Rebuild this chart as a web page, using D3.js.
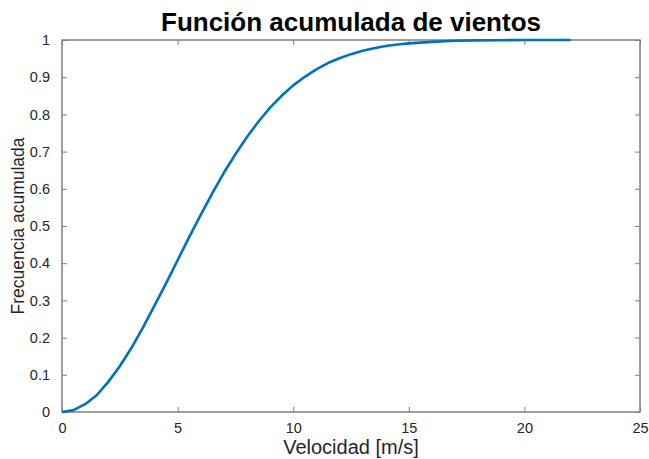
<!DOCTYPE html>
<html>
<head>
<meta charset="utf-8">
<script src="https://cdn.jsdelivr.net/npm/d3@7"></script>
<style>
  body { margin: 0; background: #fff; }
  text { font-family: "Liberation Sans", Arial, sans-serif; }
</style>
</head>
<body>
<svg id="chart" width="649" height="459"></svg>
<script>
// wind speed [m/s] and cumulative frequency
velocidad = [0, 0.5, 1, 1.5, 2, 2.5, 3, 3.5, 4, 4.5, 5, 5.5, 6, 6.5, 7, 7.5, 8, 8.5, 9, 9.5,
             10, 10.5, 11, 11.5, 12, 12.5, 13, 13.5, 14, 14.5, 15, 16, 17, 18, 19, 20, 21, 22]
frecuencia = [0, 0.005, 0.021, 0.045, 0.081, 0.123, 0.172, 0.227, 0.286, 0.346, 0.408, 0.470,
              0.530, 0.588, 0.643, 0.693, 0.739, 0.781, 0.818, 0.850, 0.878, 0.901, 0.921,
              0.938, 0.951, 0.962, 0.971, 0.978, 0.984, 0.988, 0.991, 0.995, 0.998, 0.999,
              0.9995, 0.9998, 1, 1]
xTicks = [0, 5, 10, 15, 20, 25]
yTicks = [0, 0.1, 0.2, 0.3, 0.4, 0.5, 0.6, 0.7, 0.8, 0.9, 1]

svg = d3.select('#chart')

L = 62, R = 640, T = 40, B = 412

x = d3.scaleLinear().domain([0, 25]).range([L, R])
y = d3.scaleLinear().domain([0, 1]).range([B, T])

AXIS = '#808080'
TXT = '#262626'

// axes, MATLAB style: ticks inside, box on
function styleAxis(g) {
    g.select('.domain').remove()
    g.selectAll('.tick line').attr('stroke', AXIS).attr('stroke-width', 1)
    g.selectAll('.tick text').attr('fill', TXT).style('font-size', '14.5px')
}

svg.append('g').attr('transform', `translate(0,${B})`)
    .call(d3.axisBottom(x).tickValues(xTicks).tickSize(-5).tickPadding(11).tickFormat(d3.format('d')))
    .call(styleAxis)
svg.append('g').attr('transform', `translate(0,${T})`)
    .call(d3.axisTop(x).tickValues(xTicks).tickSize(-5).tickFormat(''))
    .call(styleAxis)
svg.append('g').attr('transform', `translate(${L},0)`)
    .call(d3.axisLeft(y).tickValues(yTicks).tickSize(-5).tickPadding(12).tickFormat(d => d === 0 || d === 1 ? d : d3.format('.1f')(d)))
    .call(styleAxis)
svg.append('g').attr('transform', `translate(${R},0)`)
    .call(d3.axisRight(y).tickValues(yTicks).tickSize(-5).tickFormat(''))
    .call(styleAxis)

svg.append('rect')
    .attr('x', L).attr('y', T)
    .attr('width', R - L).attr('height', B - T)
    .attr('fill', 'none')
    .attr('stroke', AXIS)
    .attr('stroke-width', 1.5)

// the curve
pts = velocidad.map((v, i) => [v, frecuencia[i]])
svg.append('path')
    .datum(pts)
    .attr('fill', 'none')
    .attr('stroke', '#0072BD')
    .attr('stroke-width', 2.6)
    .attr('stroke-linejoin', 'round')
    .attr('d', d3.line().x(d => x(d[0])).y(d => y(d[1])))

// labels
svg.append('text')
    .attr('x', (L + R) / 2).attr('y', 31)
    .attr('text-anchor', 'middle')
    .style('font-size', '26px').style('font-weight', 'bold')
    .attr('fill', '#000')
    .text('Función acumulada de vientos')

svg.append('text')
    .attr('x', (L + R) / 2).attr('y', 454)
    .attr('text-anchor', 'middle')
    .style('font-size', '20px')
    .attr('fill', TXT)
    .text('Velocidad [m/s]')

svg.append('text')
    .attr('transform', `translate(24,${(T + B) / 2}) rotate(-90)`)
    .attr('text-anchor', 'middle')
    .style('font-size', '17.5px')
    .attr('fill', TXT)
    .text('Frecuencia acumulada')
</script>
</body>
</html>
